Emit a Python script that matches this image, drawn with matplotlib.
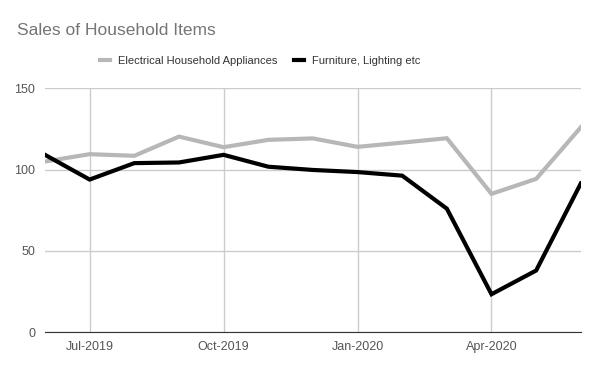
import matplotlib.pyplot as plt

months = ["Jun-2019", "Jul-2019", "Aug-2019", "Sep-2019", "Oct-2019", "Nov-2019", "Dec-2019",
          "Jan-2020", "Feb-2020", "Mar-2020", "Apr-2020", "May-2020", "Jun-2020"]
electrical = [105, 109.5, 108.5, 120.3, 113.8, 118.3, 119.2, 114, 116.6, 119.3, 85.1, 94.3, 126]
furniture = [109.1, 93.9, 104, 104.4, 109.1, 101.8, 99.8, 98.5, 96.3, 76, 23.4, 38, 91.5]
tick_months = ["Jul-2019", "Oct-2019", "Jan-2020", "Apr-2020"]
y_ticks = [0, 50, 100, 150]

plt.rcParams["font.family"] = ["Liberation Sans", "DejaVu Sans"]

fig = plt.figure(figsize=(6, 3.71), dpi=100)
ax = fig.add_axes([0.075, 0.1043, 0.893, 0.6577])

x = list(range(len(months)))
ax.plot(x, electrical, color="#b7b7b7", lw=3, solid_joinstyle="miter", label="Electrical Household Appliances", zorder=3)
ax.plot(x, furniture, color="#000000", lw=3, solid_joinstyle="miter", label="Furniture, Lighting etc", zorder=4)

ax.set_xlim(0, len(months) - 1)
ax.set_ylim(0, 150)
ax.set_xticks([months.index(m) for m in tick_months])
ax.set_xticklabels(tick_months)
ax.set_yticks(y_ticks)
ax.grid(True, color="#cccccc", lw=1)
ax.set_axisbelow(True)
for s in ["top", "right", "left"]:
    ax.spines[s].set_visible(False)
ax.spines["bottom"].set_color("#333333")
ax.tick_params(length=0, labelsize=9, colors="#555555", pad=6)
ax.tick_params(axis="y", pad=7)

fig.text(0.028, 0.918, "Sales of Household Items", fontsize=12.5, color="#757575", va="center")
fig.legend(loc="center", bbox_to_anchor=(0.434, 0.836), ncol=2, frameon=False, fontsize=8,
           handlelength=0.9, handletextpad=0.72, columnspacing=1.45, labelcolor="#333333")

fig.savefig("out.png", dpi=100)
